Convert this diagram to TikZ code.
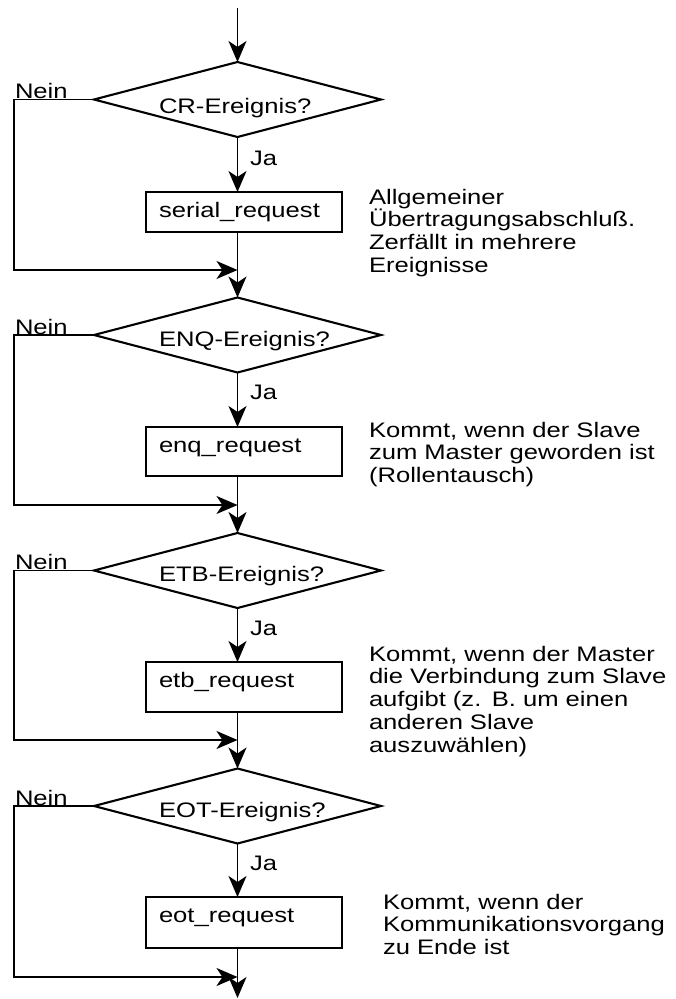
\documentclass[tikz,border=0pt]{standalone}
\usepackage{fontspec}
\setmainfont{Liberation Sans}[FakeStretch=1.22]
\usetikzlibrary{shapes.geometric,arrows.meta,calc}

\begin{document}
\begin{tikzpicture}[x=1pt,y=-1pt,
  font=\fontsize{21}{22.8}\selectfont,
  decision/.style={diamond, draw, line width=2.1pt, minimum width=287pt,
    minimum height=75pt, inner sep=0pt, outer sep=0pt},
  action/.style={rectangle, draw, line width=2.3pt, minimum width=196pt,
    inner sep=0pt, outer sep=0pt},
  txt/.style={anchor=base west, inner sep=0pt, outer sep=0pt},
  note/.style={anchor=base west, inner sep=0pt, outer sep=0pt,
    text width=400pt, align=left},
  head/.style={-{Stealth[length=21pt,width=18pt,inset=6pt]}},
  flow/.style={line width=1.7pt, head},
  back/.style={line width=1.1pt, head},
]
\useasboundingbox (0,0) rectangle (675,999);

% entry and exit points of the main line
\coordinate (start) at (237.5,8);
\coordinate (m1) at (237.5,270);
\coordinate (m2) at (237.5,505);
\coordinate (m3) at (237.5,740);
\coordinate (m4) at (237.5,977);
\coordinate (finish) at (237.5,998);

% CR
\node[decision] (d1) at (237.5,99.5) {};
\node[txt] (d1t) at (159,113) {CR-Ereignis?};
\node[action, minimum height=40pt] (b1) at (244,212) {};
\node[txt] (b1t) at (159,217) {serial\_request};
\node[txt] (n1) at (15,98) {Nein};
\node[txt] (j1) at (250,165) {Ja};
\node[note] (a1) at (369,204) {Allgemeiner\\Übertragungsabschluß.\\Zerfällt in mehrere\\Ereignisse};

% ENQ
\node[decision] (d2) at (237.5,335) {};
\node[txt] (d2t) at (159,346.5) {ENQ-Ereignis?};
\node[action, minimum height=49pt] (b2) at (244,451.5) {};
\node[txt] (b2t) at (159,452) {enq\_request};
\node[txt] (n2) at (15,334) {Nein};
\node[txt] (j2) at (250,399) {Ja};
\node[note] (a2) at (369,437) {Kommt, wenn der Slave\\zum Master geworden ist\\(Rollentausch)};

% ETB
\node[decision] (d3) at (237.5,570.5) {};
\node[txt] (d3t) at (159,581.5) {ETB-Ereignis?};
\node[action, minimum height=50pt] (b3) at (244,687) {};
\node[txt] (b3t) at (159,687) {etb\_request};
\node[txt] (n3) at (15,569.5) {Nein};
\node[txt] (j3) at (250,635) {Ja};
\node[note] (a3) at (369,661) {Kommt, wenn der Master\\die Verbindung zum Slave\\aufgibt (z. B. um einen\\anderen Slave\\auszuwählen)};

% EOT
\node[decision] (d4) at (237.5,806) {};
\node[txt] (d4t) at (159,817) {EOT-Ereignis?};
\node[action, minimum height=51pt] (b4) at (244,922.5) {};
\node[txt] (b4t) at (159,922) {eot\_request};
\node[txt] (n4) at (15,805) {Nein};
\node[txt] (j4) at (250,870) {Ja};
\node[note] (a4) at (383,909) {Kommt, wenn der\\Kommunikationsvorgang\\zu Ende ist};

% main line
\draw[flow] (start) -- (d1.north);
\draw[flow] (d1.south) -- (d1.south |- b1.north);
\draw[flow] (d1.south |- b1.south) -- (d2.north);
\draw[flow] (d2.south) -- (d2.south |- b2.north);
\draw[flow] (d2.south |- b2.south) -- (d3.north);
\draw[flow] (d3.south) -- (d3.south |- b3.north);
\draw[flow] (d3.south |- b3.south) -- (d4.north);
\draw[flow] (d4.south) -- (d4.south |- b4.north);
\draw[flow] (d4.south |- b4.south) -- (finish);

% "Nein" branches bypassing the action
\draw[back] (d1.west) -- ++(-80,0) |- (m1);
\draw[back] (d2.west) -- ++(-80,0) |- (m2);
\draw[back] (d3.west) -- ++(-80,0) |- (m3);
\draw[back] (d4.west) -- ++(-80,0) |- (m4);
\end{tikzpicture}
\end{document}
